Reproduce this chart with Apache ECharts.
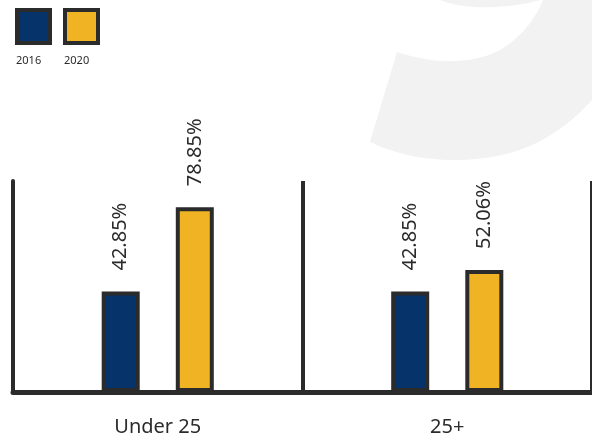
<!DOCTYPE html>
<html>
<head>
<meta charset="utf-8">
<script src="https://cdn.jsdelivr.net/npm/echarts@6/dist/echarts.min.js"></script>
<style>
  html, body { margin: 0; padding: 0; background: #ffffff; }
  #chart { width: 592px; height: 441px; }
</style>
</head>
<body>
<div id="chart"></div>
<script>
// Age groups and the share for each survey year
const categories = ['Under 25', '25+'];
const seriesNames = ['2016', '2020'];
const values2016 = [42.85, 42.85];
const values2020 = [78.85, 52.06];

const colors = ['#06336a', '#f0b323'];
const ink = '#2b2b2b';
const font = 'Noto Sans';

const chart = echarts.init(document.getElementById('chart'), null, { renderer: 'canvas' });

// Turn a chain of cubic segments into polygon points for the backdrop swoosh
function outline(start, segments) {
  const pts = [start];
  let p0 = start;
  segments.forEach(seg => {
    if (seg.length === 1) { pts.push(seg[0]); p0 = seg[0]; return; }
    const [c1, c2, p3] = seg;
    for (let i = 1; i <= 16; i++) {
      const t = i / 16, u = 1 - t;
      pts.push([
        u * u * u * p0[0] + 3 * u * u * t * c1[0] + 3 * u * t * t * c2[0] + t * t * t * p3[0],
        u * u * u * p0[1] + 3 * u * u * t * c1[1] + 3 * u * t * t * c2[1] + t * t * t * p3[1]
      ]);
    }
    p0 = p3;
  });
  return pts;
}

const swooshTail = outline([397, 52], [
  [[430, 63], [470, 66], [500, 50]],
  [[520, 38], [535, 20], [543, 0]],
  [[592, 0]],
  [[592, 100]],
  [[560, 135], [520, 160], [455, 160]],
  [[420, 160], [390, 152], [370, 142]]
]);
const swooshTop = outline([440, 0], [
  [[455, 6], [475, 8], [495, 7]],
  [[515, 6], [530, 3], [540, 0]]
]);

// Legend: squares with the year written underneath
const legendGraphics = [];
seriesNames.forEach((name, i) => {
  const x = 17 + i * 48;
  legendGraphics.push({
    type: 'rect',
    shape: { x: x, y: 10, width: 33, height: 33 },
    style: { fill: colors[i], stroke: ink, lineWidth: 4 }
  });
  legendGraphics.push({
    type: 'text',
    x: x - 1,
    y: 55,
    style: { text: name, fill: ink, fontFamily: font, fontSize: 11 }
  });
});

const valueLabel = {
  show: true,
  position: 'top',
  rotate: 90,
  align: 'left',
  verticalAlign: 'middle',
  distance: 21,
  fontFamily: font,
  fontSize: 20,
  color: ink,
  formatter: p => p.value + '%'
};

function barSeries(name, data, color) {
  return {
    name: name,
    type: 'bar',
    data: data,
    barWidth: 38,
    barGap: '95%',
    itemStyle: { color: color, borderColor: ink, borderWidth: 4 },
    label: valueLabel,
    z: 3
  };
}

chart.setOption({
  animation: false,
  backgroundColor: '#ffffff',
  graphic: [
    { type: 'polygon', z: -10, shape: { points: swooshTail }, style: { fill: '#f2f2f2' } },
    { type: 'polygon', z: -10, shape: { points: swooshTop }, style: { fill: '#f2f2f2' } }
  ].concat(legendGraphics),
  grid: { left: 13, right: -1, top: 181, bottom: 49, containLabel: false },
  xAxis: {
    type: 'category',
    data: categories,
    axisLine: { show: true, lineStyle: { color: ink, width: 5 } },
    axisTick: { show: false },
    splitLine: { show: true, lineStyle: { color: ink, width: 4 } },
    axisLabel: { fontFamily: font, fontSize: 20, color: ink, margin: 25 }
  },
  yAxis: {
    type: 'value',
    min: 0,
    max: 90,
    axisLine: { show: true, lineStyle: { color: ink, width: 4 } },
    axisTick: { show: false },
    axisLabel: { show: false },
    splitLine: { show: false }
  },
  series: [
    barSeries(seriesNames[0], values2016, colors[0]),
    barSeries(seriesNames[1], values2020, colors[1])
  ]
});
</script>
</body>
</html>
